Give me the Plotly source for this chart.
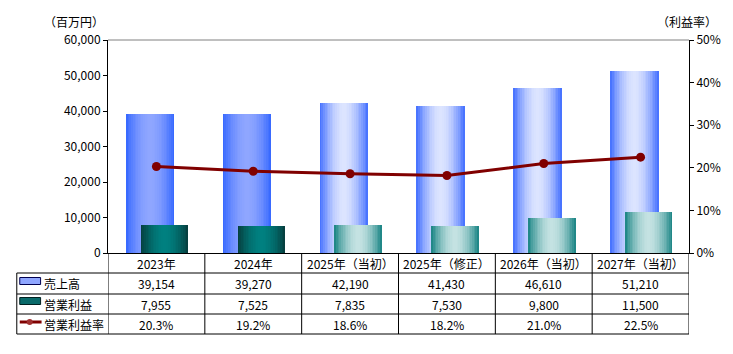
import plotly.graph_objects as go

categories = ["2023年", "2024年", "2025年（当初）", "2025年（修正）", "2026年（当初）", "2027年（当初）"]
sales = [39154, 39270, 42190, 41430, 46610, 51210]
op_profit = [7955, 7525, 7835, 7530, 9800, 11500]
op_margin = [20.3, 19.2, 18.6, 18.2, 21.0, 22.5]
forecast = [False, False, True, True, True, True]

W, H = 733, 354
L, R, T, B = 108, 39, 40, 101
PW, PH = W - L - R, H - T - B
FONT = "Noto Sans CJK JP"


def pxx(x):
    return (x - L) / PW


def pxy(y):
    return (H - B - y) / PH


def hex2rgb(h):
    h = h.lstrip("#")
    return [int(h[i:i + 2], 16) for i in (0, 2, 4)]


def mix(c1, c2, f):
    a, b = hex2rgb(c1), hex2rgb(c2)
    return "rgb(%d,%d,%d)" % tuple(round(a[i] + (b[i] - a[i]) * f) for i in range(3))


fig = go.Figure()
x_centers = [i + 0.5 for i in range(len(categories))]

N = 14
series = [
    (sales, -0.315, 0.50, ("#3366FF", "#8FA6FF"), ("#3F6CFF", "#DCE4FF")),
    (op_profit, -0.162, 0.49, ("#063C3C", "#008080"), ("#168282", "#C4E2E2")),
]
for vals, off, wid, col_act, col_fc in series:
    hw = wid / 2
    cen = off + hw
    for k in range(N):
        hwk = hw * (1 - k / N)
        f = 1 - (1 - (k + 0.5) / N) ** 1.8
        colors = [mix(*(col_fc if fc else col_act), f) for fc in forecast]
        fig.add_trace(go.Bar(
            x=x_centers, y=vals, width=2 * hwk, offset=cen - hwk,
            marker=dict(color=colors, line=dict(width=0)),
            showlegend=False, hoverinfo="skip", yaxis="y"))

fig.add_trace(go.Scatter(
    x=x_centers, y=[v / 100 for v in op_margin], yaxis="y2", mode="lines+markers",
    line=dict(color="#800000", width=3), marker=dict(color="#800000", size=9),
    showlegend=False))

shapes = []
black = dict(color="black", width=1)
shapes.append(dict(type="line", xref="paper", yref="paper", x0=0, x1=1, y0=1, y1=1,
                   line=dict(color="#808080", width=1)))
for yl in [273, 294, 314, 334]:
    shapes.append(dict(type="line", xref="paper", yref="paper", x0=pxx(16), x1=1,
                       y0=pxy(yl), y1=pxy(yl), line=black))
for i in range(len(categories) + 1):
    shapes.append(dict(type="line", xref="x", yref="paper", x0=i, x1=i,
                       y0=0, y1=pxy(334), line=black))
shapes.append(dict(type="line", xref="paper", yref="paper", x0=pxx(16), x1=pxx(16),
                   y0=pxy(273), y1=pxy(334), line=black))
shapes.append(dict(type="rect", xref="paper", yref="paper", x0=pxx(19), x1=pxx(40),
                   y0=pxy(284.5), y1=pxy(277.5), fillcolor="#8FA6FF",
                   line=dict(color="#000050", width=1)))
shapes.append(dict(type="rect", xref="paper", yref="paper", x0=pxx(19), x1=pxx(40),
                   y0=pxy(304.5), y1=pxy(297.5), fillcolor="#0A6A6A",
                   line=dict(color="#002020", width=1)))
shapes.append(dict(type="line", xref="paper", yref="paper", x0=pxx(19), x1=pxx(41),
                   y0=pxy(322), y1=pxy(322), line=dict(color="#800000", width=3)))
shapes.append(dict(type="circle", xref="paper", yref="paper", x0=pxx(26), x1=pxx(32),
                   y0=pxy(325), y1=pxy(319), fillcolor="#A03030", line=dict(width=0)))

ann = []
fnt = dict(family=FONT, size=12, color="black")


def add_text(x, y, text, xref="x", xanchor="center"):
    ann.append(dict(x=x, y=y, xref=xref, yref="paper", text=text, showarrow=False,
                    xanchor=xanchor, yanchor="middle", font=fnt))


for i, c in enumerate(categories):
    add_text(i + 0.5, pxy(263.5), c)
    add_text(i + 0.5, pxy(283.5), f"{sales[i]:,}")
    add_text(i + 0.5, pxy(304), f"{op_profit[i]:,}")
    add_text(i + 0.5, pxy(324.5), f"{op_margin[i]:.1f}%")
for lbl, yy in [("売上高", 283.5), ("営業利益", 304), ("営業利益率", 324)]:
    add_text(pxx(41), pxy(yy), lbl, xref="paper", xanchor="left")
add_text(pxx(74), pxy(21), "（百万円）", xref="paper")
add_text(pxx(692), pxy(21), "（利益率）", xref="paper")

fig.update_layout(
    width=W, height=H, margin=dict(l=L, r=R, t=T, b=B),
    paper_bgcolor="white", plot_bgcolor="white",
    barmode="overlay", bargap=0,
    font=fnt,
    xaxis=dict(range=[0, 6], showticklabels=False, ticks="", showgrid=False,
               zeroline=False, showline=True, linecolor="black", linewidth=1),
    yaxis=dict(range=[0, 60000], tickvals=list(range(0, 60001, 10000)), tickformat=",",
               ticks="outside", ticklen=4, tickcolor="black", showgrid=False,
               zeroline=False, showline=True, linecolor="black", linewidth=1,
               tickfont=fnt),
    yaxis2=dict(range=[0, 0.5], tickvals=[0, 0.1, 0.2, 0.3, 0.4, 0.5], tickformat=".0%",
                overlaying="y", side="right", ticks="outside", ticklen=4, tickcolor="black",
                showgrid=False, zeroline=False, showline=True, linecolor="black",
                linewidth=1, tickfont=fnt),
    shapes=shapes, annotations=ann,
)

fig.write_html("out.html")
